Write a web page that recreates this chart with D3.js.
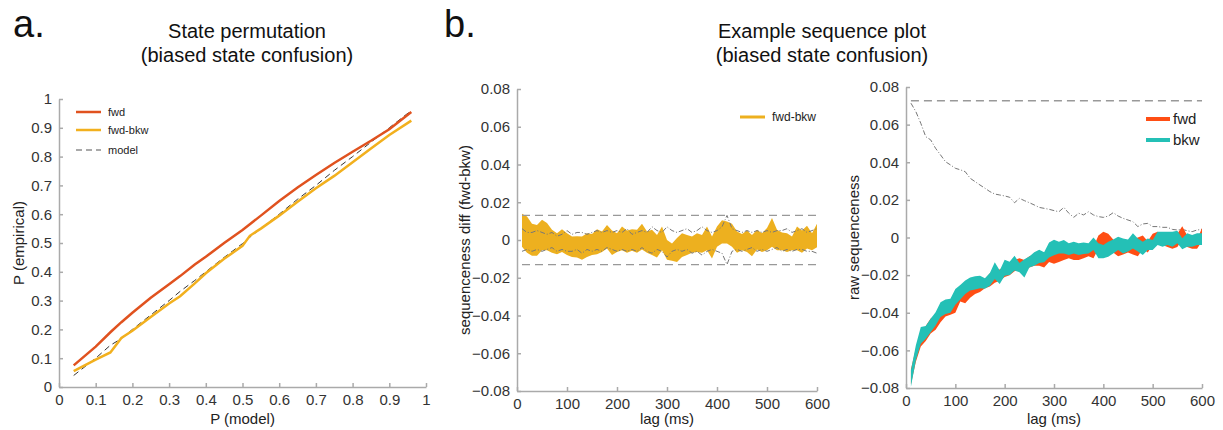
<!DOCTYPE html>
<html>
<head>
<meta charset="utf-8">
<script src="https://cdn.jsdelivr.net/npm/d3@7"></script>
<style>
  body { margin: 0; background: #fff; }
  svg { font-family: "Liberation Sans", Arial, sans-serif; }
  .axis path, .axis line { stroke: #aaa; stroke-width: 1.5; }
  .axis text { fill: #333; font-size: 15px; }
</style>
</head>
<body>
<div id="chart"></div>
<script>
// ---- panel a: P(model) vs P(empirical) ----
const pModel  = [0.04, 0.1, 0.14, 0.17, 0.2, 0.25, 0.3, 0.33, 0.37, 0.4, 0.45, 0.5, 0.52, 0.55, 0.6, 0.65, 0.7, 0.75, 0.8, 0.85, 0.9, 0.96];
const pFwd    = [0.075, 0.14, 0.19, 0.225, 0.258, 0.31, 0.357, 0.385, 0.425, 0.452, 0.5, 0.545, 0.565, 0.595, 0.646, 0.693, 0.736, 0.778, 0.817, 0.855, 0.895, 0.955];
const pFwdBkw = [0.055, 0.095, 0.12, 0.17, 0.195, 0.243, 0.29, 0.315, 0.36, 0.395, 0.445, 0.49, 0.525, 0.55, 0.595, 0.643, 0.69, 0.733, 0.78, 0.828, 0.875, 0.925];
const pRef    = [0.04, 0.1, 0.145, 0.168, 0.2, 0.25, 0.3, 0.332, 0.37, 0.4, 0.45, 0.498, 0.52, 0.55, 0.6, 0.652, 0.7, 0.752, 0.8, 0.85, 0.9, 0.96];
const ticksA = [0, 0.1, 0.2, 0.3, 0.4, 0.5, 0.6, 0.7, 0.8, 0.9, 1];

// ---- lags (ms) ----
const lags = [10,20,30,40,50,60,70,80,90,100,110,120,130,140,150,160,170,180,190,200,
  210,220,230,240,250,260,270,280,290,300,310,320,330,340,350,360,370,380,390,400,
  410,420,430,440,450,460,470,480,490,500,510,520,530,540,550,560,570,580,590,600];

// ---- panel b (left): fwd-bkw difference band ----
const diffHi = [0.0139,0.0125,0.0086,0.008,0.0107,0.009,0.0054,0.0036,0.0057,0.0036,
  0.0018,0.002,0.0018,0.0036,0.0032,0.0057,0.0045,0.008,0.005,0.0036,
  0.0071,0.005,0.0057,0.0054,0.0086,0.0045,0.0054,0.0027,0.0071,0.0,
  -0.0018,0.001,0.0036,0.0027,0.0018,0.0036,0.0027,0.0071,0.0018,0.0071,
  0.0104,0.0098,0.0086,0.0045,0.0032,0.005,0.0027,0.0054,0.0036,0.0063,
  0.0116,0.0054,0.004,0.0036,0.0018,0.0071,0.005,0.0075,0.0036,0.0086];
const diffLo = [-0.0036,-0.0068,-0.0084,-0.0084,-0.0054,-0.0054,-0.0068,-0.0075,-0.0063,-0.008,
  -0.009,-0.0093,-0.0104,-0.009,-0.008,-0.0075,-0.0064,-0.0045,-0.008,-0.0063,
  -0.0054,-0.0068,-0.0057,-0.0068,-0.005,-0.0068,-0.008,-0.0093,-0.0054,-0.0104,
  -0.011,-0.0116,-0.009,-0.008,-0.0068,-0.0063,-0.0068,-0.0054,-0.0098,-0.0036,
  -0.0018,-0.0018,-0.0036,-0.0068,-0.0054,-0.0063,-0.0086,-0.005,-0.0063,-0.0054,
  -0.0036,-0.0054,-0.0054,-0.0063,-0.0054,-0.0054,-0.0068,-0.0045,-0.0054,-0.0039];
const diffThrHi = [0.006,0.004,0.004,0.005,0.004,0.003,0.004,0.002,0.003,0.005,
  0.003,0.004,0.004,0.003,0.004,0.005,0.004,0.005,0.004,0.005,
  0.004,0.006,0.003,0.004,0.005,0.004,0.007,0.005,0.004,0.007,
  0.005,0.004,0.005,0.006,0.004,0.005,0.007,0.005,0.004,0.005,
  0.007,0.013,0.006,0.005,0.004,0.005,0.004,0.005,0.004,0.005,
  0.004,0.005,0.005,0.006,0.004,0.005,0.006,0.004,0.005,0.006];
const diffThrLo = [-0.006,-0.005,-0.006,-0.005,-0.006,-0.005,-0.004,-0.006,-0.005,-0.006,
  -0.006,-0.005,-0.007,-0.005,-0.006,-0.005,-0.006,-0.004,-0.005,-0.006,
  -0.005,-0.006,-0.005,-0.006,-0.004,-0.006,-0.007,-0.005,-0.006,-0.009,
  -0.006,-0.005,-0.006,-0.005,-0.007,-0.006,-0.008,-0.006,-0.005,-0.006,
  -0.007,-0.013,-0.006,-0.005,-0.006,-0.005,-0.004,-0.006,-0.005,-0.006,
  -0.005,-0.004,-0.006,-0.005,-0.006,-0.005,-0.005,-0.006,-0.006,-0.007];
const diffMaxThr = 0.013;

// ---- panel b (right): raw sequenceness bands ----
const fwdHi = [-0.070,-0.059,-0.052,-0.047,-0.043,-0.041,-0.038,-0.035,-0.034,-0.031,
  -0.028,-0.027,-0.024,-0.024,-0.022,-0.022,-0.019,-0.017,-0.017,-0.015,
  -0.014,-0.012,-0.011,-0.012,-0.010,-0.009,-0.008,-0.008,-0.007,-0.006,
  -0.006,-0.007,-0.006,-0.007,-0.006,-0.006,-0.004,-0.005,0.001,0.003,
  0.002,-0.001,-0.004,-0.002,-0.002,-0.001,0.000,0.001,-0.002,0.002,
  0.003,0.002,0.001,0.001,0.002,0.006,0.001,0.000,-0.001,0.005];
const fwdLo = [-0.078,-0.066,-0.058,-0.055,-0.051,-0.049,-0.045,-0.042,-0.041,-0.040,
  -0.034,-0.035,-0.032,-0.030,-0.029,-0.027,-0.026,-0.024,-0.023,-0.021,
  -0.020,-0.018,-0.017,-0.018,-0.016,-0.015,-0.015,-0.016,-0.013,-0.014,
  -0.013,-0.012,-0.011,-0.012,-0.012,-0.011,-0.010,-0.011,-0.006,-0.004,
  -0.004,-0.008,-0.010,-0.009,-0.008,-0.009,-0.010,-0.006,-0.008,-0.004,
  -0.003,-0.004,-0.005,-0.006,-0.005,-0.001,-0.005,-0.006,-0.006,-0.002];
const bkwHi = [-0.0706,-0.0573,-0.0476,-0.0471,-0.0432,-0.0397,-0.0344,-0.0330,-0.0326,-0.0274,
  -0.0252,-0.0229,-0.0212,-0.0206,-0.0203,-0.0217,-0.0189,-0.0132,-0.0176,-0.0118,
  -0.0129,-0.0097,-0.0136,-0.0115,-0.0101,-0.0079,-0.0065,-0.0079,-0.0026,-0.0012,
  -0.0022,-0.0013,-0.0031,-0.0022,-0.0031,-0.0027,-0.0031,0.0000,-0.0031,-0.0040,
  -0.0022,-0.0010,0.0004,-0.0005,-0.0010,0.0022,-0.0005,-0.0022,-0.0005,-0.0013,
  0.0031,0.0031,0.0031,0.0031,0.0036,-0.0004,0.0022,0.0013,0.0022,0.0022];
const bkwLo = [-0.0794,-0.0653,-0.0565,-0.0538,-0.0503,-0.0468,-0.0423,-0.0406,-0.0400,-0.0358,
  -0.0330,-0.0300,-0.0282,-0.0277,-0.0270,-0.0273,-0.0256,-0.0221,-0.0247,-0.0203,
  -0.0199,-0.0176,-0.0185,-0.0212,-0.0159,-0.0150,-0.0136,-0.0132,-0.0106,-0.0094,
  -0.0085,-0.0085,-0.0093,-0.0085,-0.0093,-0.0088,-0.0085,-0.0066,-0.0110,-0.0110,
  -0.0102,-0.0085,-0.0066,-0.0085,-0.0075,-0.0058,-0.0075,-0.0093,-0.0066,-0.0066,
  -0.0040,-0.0049,-0.0040,-0.0049,-0.0031,-0.0062,-0.0049,-0.0049,-0.0040,-0.0040];
const rawThr = [0.0714,0.0669,0.0607,0.0536,0.0519,0.0474,0.0439,0.0403,0.0386,0.0368,
  0.0360,0.0350,0.0315,0.0297,0.0279,0.0262,0.0244,0.0231,0.0226,0.0221,
  0.0214,0.0185,0.0208,0.0196,0.0185,0.0173,0.0160,0.0155,0.0150,0.0143,
  0.0137,0.0160,0.0129,0.0107,0.0129,0.0120,0.0137,0.0120,0.0111,0.0107,
  0.0114,0.0132,0.0114,0.0102,0.0093,0.0084,0.0058,0.0072,0.0075,0.0058,
  0.0058,0.0054,0.0054,0.0043,0.0040,0.0043,0.0036,0.0031,0.0040,0.0043];
const rawMaxThr = 0.0727;

const lagTicks = [0, 100, 200, 300, 400, 500, 600];
const seqTicks = [-0.08, -0.06, -0.04, -0.02, 0, 0.02, 0.04, 0.06, 0.08];

const W = 1223, H = 430;
const svg = d3.select("#chart").append("svg").attr("width", W).attr("height", H);

function fmt(d) { return d3.format("")(+d.toFixed(2)); }

function drawAxes(x, y, xt, yt, xlabel, ylabel, ylabelX) {
    svg.append("g").attr("class", "axis")
        .attr("transform", "translate(0," + y.range()[0] + ")")
        .call(d3.axisBottom(x).tickValues(xt).tickSize(-4).tickSizeOuter(0).tickPadding(7).tickFormat(fmt));
    svg.append("g").attr("class", "axis")
        .attr("transform", "translate(" + x.range()[0] + ",0)")
        .call(d3.axisLeft(y).tickValues(yt).tickSize(-4).tickSizeOuter(0).tickPadding(7).tickFormat(fmt));
    svg.append("text").attr("x", (x.range()[0] + x.range()[1]) / 2).attr("y", 424)
        .attr("text-anchor", "middle").attr("font-size", 15).attr("fill", "#222").text(xlabel);
    svg.append("text").attr("transform", "translate(" + ylabelX + "," + (y.range()[0] + y.range()[1]) / 2 + ") rotate(-90)")
        .attr("text-anchor", "middle").attr("font-size", 15).attr("fill", "#222").text(ylabel);
}

function title(cx, l1, l2) {
    svg.append("text").attr("x", cx).attr("y", 38).attr("text-anchor", "middle").attr("font-size", 20).attr("fill", "#111").text(l1);
    svg.append("text").attr("x", cx).attr("y", 62).attr("text-anchor", "middle").attr("font-size", 20).attr("fill", "#111").text(l2);
}

// panel letters
svg.append("text").attr("x", 13).attr("y", 37).attr("font-size", 38).attr("fill", "#111").text("a.");
svg.append("text").attr("x", 444).attr("y", 37).attr("font-size", 38).attr("fill", "#111").text("b.");
title(247, "State permutation", "(biased state confusion)");
title(822, "Example sequence plot", "(biased state confusion)");

// ---------- panel a ----------
const xA = d3.scaleLinear().domain([0, 1]).range([59, 426]);
const yA = d3.scaleLinear().domain([0, 1]).range([387, 99]);
drawAxes(xA, yA, ticksA, ticksA, "P (model)", "P (empirical)", 24);

const lineA = ys => d3.line().x((d, i) => xA(pModel[i])).y((d, i) => yA(ys[i]))(pModel);
svg.append("path").attr("d", lineA(pRef)).attr("fill", "none").attr("stroke", "#333").attr("stroke-width", 1).attr("stroke-dasharray", "6,4");
svg.append("path").attr("d", lineA(pFwdBkw)).attr("fill", "none").attr("stroke", "#f2b01e").attr("stroke-width", 2.5);
svg.append("path").attr("d", lineA(pFwd)).attr("fill", "none").attr("stroke", "#e0521f").attr("stroke-width", 2.5);

const legA = [["fwd", "#e0521f", null], ["fwd-bkw", "#f2b01e", null], ["model", "#555", "6,4"]];
legA.forEach((l, i) => {
    const ly = [112, 130, 150][i];
    svg.append("line").attr("x1", 76).attr("x2", 101).attr("y1", ly).attr("y2", ly)
        .attr("stroke", l[1]).attr("stroke-width", l[2] ? 1.2 : 2.5).attr("stroke-dasharray", l[2]);
    svg.append("text").attr("x", 108).attr("y", ly + 4).attr("font-size", 11).attr("fill", "#222").text(l[0]);
});

// ---------- panel b, left ----------
const xB = d3.scaleLinear().domain([0, 600]).range([517, 817]);
const yB = d3.scaleLinear().domain([-0.08, 0.08]).range([391, 89]);
drawAxes(xB, yB, lagTicks, seqTicks, "lag (ms)", "sequenceness diff (fwd-bkw)", 470);

svg.append("path")
    .attr("d", d3.area().x((d, i) => xB(lags[i])).y0((d, i) => yB(diffLo[i])).y1((d, i) => yB(diffHi[i]))(lags))
    .attr("fill", "#edb01f");
[diffThrHi, diffThrLo].forEach(arr => {
    svg.append("path").attr("d", d3.line().x((d, i) => xB(lags[i])).y((d, i) => yB(arr[i]))(lags))
        .attr("fill", "none").attr("stroke", "#777").attr("stroke-width", 1).attr("stroke-dasharray", "5,2,1,2");
});
[diffMaxThr, -diffMaxThr].forEach(v => {
    svg.append("line").attr("x1", xB(lags[0])).attr("x2", xB(600)).attr("y1", yB(v)).attr("y2", yB(v))
        .attr("stroke", "#999").attr("stroke-width", 1.3).attr("stroke-dasharray", "8,5");
});
svg.append("line").attr("x1", 740).attr("x2", 765).attr("y1", 117).attr("y2", 117).attr("stroke", "#edb01f").attr("stroke-width", 3);
svg.append("text").attr("x", 772).attr("y", 121).attr("font-size", 12).attr("fill", "#222").text("fwd-bkw");

// ---------- panel b, right ----------
const xC = d3.scaleLinear().domain([0, 600]).range([906, 1202]);
const yC = d3.scaleLinear().domain([-0.08, 0.08]).range([388, 87]);
drawAxes(xC, yC, lagTicks, seqTicks, "lag (ms)", "raw sequenceness", 859);

svg.append("line").attr("x1", xC(lags[0])).attr("x2", xC(600)).attr("y1", yC(rawMaxThr)).attr("y2", yC(rawMaxThr))
    .attr("stroke", "#999").attr("stroke-width", 1.3).attr("stroke-dasharray", "8,5");
svg.append("path").attr("d", d3.line().x((d, i) => xC(lags[i])).y((d, i) => yC(rawThr[i]))(lags))
    .attr("fill", "none").attr("stroke", "#777").attr("stroke-width", 1).attr("stroke-dasharray", "5,2,1,2");

const bandC = (lo, hi) => d3.area().x((d, i) => xC(lags[i])).y0((d, i) => yC(lo[i])).y1((d, i) => yC(hi[i]))(lags);
svg.append("path").attr("d", bandC(fwdLo, fwdHi)).attr("fill", "#ff4e14");
svg.append("path").attr("d", bandC(bkwLo, bkwHi)).attr("fill", "#24c0b6");

[["fwd", "#ff4e14", 119], ["bkw", "#24c0b6", 140]].forEach(l => {
    svg.append("line").attr("x1", 1146).attr("x2", 1170).attr("y1", l[2]).attr("y2", l[2]).attr("stroke", l[1]).attr("stroke-width", 4);
    svg.append("text").attr("x", 1173).attr("y", l[2] + 5).attr("font-size", 15).attr("fill", "#222").text(l[0]);
});
</script>
</body>
</html>
